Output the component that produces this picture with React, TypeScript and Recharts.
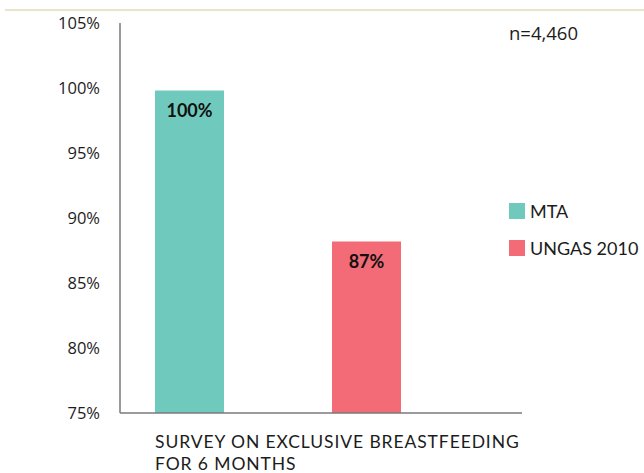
import { BarChart, Bar, XAxis, YAxis, LabelList } from "recharts";

const CATEGORY_LINES = ["SURVEY ON EXCLUSIVE BREASTFEEDING", "FOR 6 MONTHS"];
const SERIES_NAMES = ["MTA", "UNGAS 2010"];
const SERIES_VALUES = [99.8, 88.2];
const VALUE_LABELS = ["100%", "87%"];
const SERIES_COLORS = ["#6FCABD", "#F36B76"];
const Y_TICKS = [75, 80, 85, 90, 95, 100, 105];
const SAMPLE_NOTE = "n=4,460";

const data = [
  {
    name: CATEGORY_LINES.join(" "),
    s0: SERIES_VALUES[0],
    s1: SERIES_VALUES[1],
  },
];

const AXIS_COLOR = "#7a7a7a";
const TEXT_COLOR = "#1c1c1c";

function CategoryTick({ x, y }: any) {
  // lines are left aligned with the first bar
  const left = x - 123;
  return (
    <text
      x={left}
      y={y}
      textAnchor="start"
      fill={TEXT_COLOR}
      fontFamily="Lato"
      fontSize={17.5}
      letterSpacing={0.9}
    >
      {CATEGORY_LINES.map((line, i) => (
        <tspan key={i} x={left} dy={i === 0 ? 27 : 22}>
          {line}
        </tspan>
      ))}
    </text>
  );
}

function makeValueLabel(idx: number) {
  return function ValueLabel({ x, y, width }: any) {
    return (
      <text
        x={x + width / 2}
        y={y + 12}
        dominantBaseline="hanging"
        textAnchor="middle"
        fill="#111"
        fontFamily="Lato"
        fontWeight={700}
        fontSize={18}
      >
        {VALUE_LABELS[idx]}
      </text>
    );
  };
}

export default function App() {
  return (
    <div style={{ position: "absolute", top: 0, left: 0, width: 644, height: 473, background: "#fff" }}>
      {/* thin rule along the top */}
      <div style={{ position: "absolute", top: 9, left: 5, width: 639, height: 2, background: "#E9E5C8" }} />

      <BarChart
        width={644}
        height={473}
        data={data}
        margin={{ top: 23, right: 122, bottom: 0, left: 0 }}
        barSize={69}
        barGap={108}
      >
        <XAxis
          dataKey="name"
          height={60}
          padding={{ left: 0, right: 86 }}
          tickLine={false}
          axisLine={{ stroke: AXIS_COLOR, strokeWidth: 1.5 }}
          tick={<CategoryTick />}
          interval={0}
        />
        <YAxis
          width={120}
          domain={[75, 105]}
          ticks={Y_TICKS}
          allowDataOverflow
          tickFormatter={(v: number) => `${v}%`}
          tickLine={false}
          tickSize={6}
          tickMargin={14}
          axisLine={{ stroke: AXIS_COLOR, strokeWidth: 1.5 }}
          tick={{ fill: TEXT_COLOR, fontSize: 16.5, fontFamily: "Open Sans" }}
        />
        {SERIES_NAMES.map((name, i) => (
          <Bar key={name} dataKey={`s${i}`} name={name} fill={SERIES_COLORS[i]} isAnimationActive={false}>
            <LabelList dataKey={`s${i}`} content={makeValueLabel(i)} />
          </Bar>
        ))}
      </BarChart>

      <div
        style={{
          position: "absolute",
          left: 509,
          top: 20,
          fontFamily: "Open Sans",
          fontSize: 18.5,
          color: TEXT_COLOR,
        }}
      >
        {SAMPLE_NOTE}
      </div>

      {/* legend */}
      <div style={{ position: "absolute", left: 509, top: 199, fontFamily: "Lato", fontSize: 18, color: TEXT_COLOR }}>
        {SERIES_NAMES.map((name, i) => (
          <div key={name} style={{ display: "flex", alignItems: "center", height: 24, marginBottom: 13 }}>
            <span style={{ width: 16, height: 16, background: SERIES_COLORS[i], marginRight: 5, display: "inline-block" }} />
            <span>{name}</span>
          </div>
        ))}
      </div>
    </div>
  );
}
